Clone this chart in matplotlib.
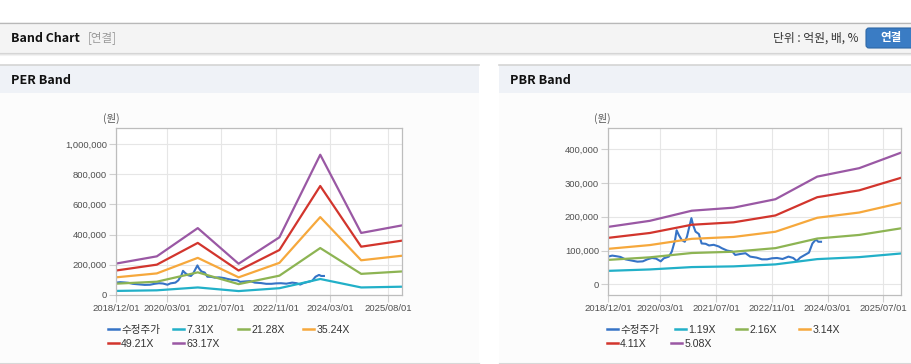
import matplotlib
matplotlib.use('Agg')
import matplotlib.pyplot as plt
from matplotlib.patches import Rectangle, FancyBboxPatch
from matplotlib.lines import Line2D
from matplotlib.ticker import FuncFormatter
import pandas as pd

plt.rcParams['font.family'] = ['Liberation Sans', 'Noto Sans CJK KR']

# yearly band points (December of each year)
band_dates = ['2018-12-01', '2019-12-01', '2020-12-01', '2021-12-01',
              '2022-12-01', '2023-12-01', '2024-12-01', '2025-12-01']

per_labels = ['7.31X', '21.28X', '35.24X', '49.21X', '63.17X']
per_731 = [27000, 31000, 50000, 26000, 45000, 106000, 50000, 55000]
per_2128 = [75000, 88000, 150000, 72000, 128000, 311000, 140000, 156000]
per_3524 = [117000, 143000, 246000, 117000, 213000, 516000, 230000, 260000]
per_4921 = [162000, 201000, 345000, 162000, 298000, 722000, 320000, 360000]
per_6317 = [208000, 256000, 443000, 207000, 382000, 929000, 411000, 461000]

pbr_labels = ['1.19X', '2.16X', '3.14X', '4.11X', '5.08X']
pbr_119 = [39800, 44000, 51000, 53100, 59000, 74600, 80500, 91300]
pbr_216 = [72300, 79900, 92700, 96500, 107100, 135600, 146200, 165800]
pbr_314 = [105000, 116200, 134700, 140300, 155700, 197100, 212600, 241000]
pbr_411 = [137500, 152000, 176400, 183600, 203900, 258000, 278300, 315500]
pbr_508 = [170000, 188000, 218000, 227000, 252000, 319000, 344000, 390000]

# adjusted share price (수정주가)
price_dates = ['2018-12-01', '2019-01-07', '2019-02-15', '2019-03-20', '2019-05-01',
               '2019-06-15', '2019-08-15', '2019-10-01', '2019-11-10', '2019-12-20',
               '2020-01-25', '2020-03-05', '2020-04-01', '2020-05-15', '2020-06-10',
               '2020-07-08', '2020-07-22', '2020-08-10', '2020-09-05', '2020-10-01',
               '2020-10-20', '2020-11-10', '2020-11-28', '2020-12-12', '2021-01-03',
               '2021-02-01', '2021-02-25', '2021-04-01', '2021-05-01', '2021-06-10',
               '2021-07-25', '2021-08-20', '2021-10-05', '2021-11-20', '2021-12-15',
               '2022-02-01', '2022-03-15', '2022-04-25', '2022-06-20', '2022-08-05',
               '2022-09-20', '2022-11-01', '2022-12-15', '2023-02-01', '2023-03-25',
               '2023-05-05', '2023-06-05', '2023-07-05', '2023-08-20', '2023-09-20',
               '2023-10-20', '2023-11-20', '2023-12-10', '2024-01-03']
price_vals = [82000, 85000, 83000, 81000, 74000, 71000, 67000, 68000, 74000, 78000,
              76000, 68000, 77000, 82000, 97000, 131000, 160000, 146000, 131000, 126000,
              141000, 171000, 196000, 176000, 156000, 149000, 121000, 120000, 115000, 117000,
              112000, 107000, 100000, 97000, 87000, 90000, 92000, 82000, 79000, 74000,
              74000, 77000, 78000, 75000, 82000, 78000, 69000, 79000, 88000, 94000,
              121000, 133000, 126000, 126000]

per_ticks = ['2018-12-01', '2020-03-01', '2021-07-01', '2022-11-01', '2024-03-01', '2025-08-01']
pbr_ticks = ['2018-12-01', '2020-03-01', '2021-07-01', '2022-11-01', '2024-03-01', '2025-07-01']

price_color = '#3673c6'
band_colors = ['#22b0c8', '#8db453', '#f6a83c', '#d2352d', '#9a58a4']

W, H = 912, 364
fig = plt.figure(figsize=(W / 100, H / 100), dpi=100)

# page decoration in pixel coordinates
bg = fig.add_axes([0, 0, 1, 1], zorder=-5)
bg.set_xlim(0, W)
bg.set_ylim(H, 0)
bg.axis('off')
bg.add_patch(Rectangle((0, 22), W, 31, fc='#f4f4f4', ec='none'))
bg.plot([0, W], [22.5, 22.5], color='#b8b8b8', lw=0.9)
for i, a in enumerate([0.4, 0.22, 0.1]):
    bg.plot([0, W], [53 + i, 53 + i], color='#999999', lw=0.8, alpha=a)
for x0, w in [(0, 479), (499, 413)]:
    bg.add_patch(Rectangle((x0, 65), w, 28, fc='#eff2f7', ec='none'))
    bg.plot([x0, x0 + w], [64.5, 64.5], color='#d4d4d4', lw=1.2)
    bg.add_patch(Rectangle((x0, 93), w, 269, fc='#fcfcfc', ec='none'))
    bg.plot([x0, x0 + w], [362.5, 362.5], color='#d8d8d8', lw=0.9)

bg.text(11, 38, 'Band Chart', fontsize=8.9, fontweight='bold', family='Noto Sans CJK KR',
        va='center', color='#111111')
bg.text(88, 38, '[연결]', fontsize=8.3, family='Noto Sans CJK KR', va='center', color='#9a9a9a')
bg.text(859, 38, '단위 : 억원, 배, %', fontsize=8.5, family='Noto Sans CJK KR',
        va='center', ha='right', color='#333333')
bg.add_patch(FancyBboxPatch((866, 28), 52, 20, boxstyle='round,pad=0,rounding_size=3',
                            fc='#3a7cc4', ec='#2f68a6', lw=0.8))
bg.text(891, 38, '연결', fontsize=8.3, fontweight='bold', family='Noto Sans CJK KR',
        va='center', ha='center', color='white')
bg.text(11, 80, 'PER Band', fontsize=9.1, fontweight='bold', family='Noto Sans CJK KR',
        va='center', color='#111111')
bg.text(510, 80, 'PBR Band', fontsize=9.1, fontweight='bold', family='Noto Sans CJK KR',
        va='center', color='#111111')
bg.text(111, 118, '(원)', fontsize=7.5, family='Noto Sans CJK KR', va='center', ha='center', color='#555555')
bg.text(602, 118, '(원)', fontsize=7.5, family='Noto Sans CJK KR', va='center', ha='center', color='#555555')


def make_axes(x0, x1, y0, y1):
    ax = fig.add_axes([x0 / W, 1 - y1 / H, (x1 - x0) / W, (y1 - y0) / H])
    ax.set_facecolor('white')
    ax.grid(True, color='#e6e6e6', lw=0.8)
    ax.set_axisbelow(True)
    for s in ax.spines.values():
        s.set_color('#bdbdbd')
        s.set_linewidth(0.9)
    ax.tick_params(axis='both', length=5, width=0.8, color='#cfcfcf', labelsize=6.8,
                   labelcolor='#505050', pad=1.5)
    ax.yaxis.set_major_formatter(FuncFormatter(lambda v, p: f'{int(v):,}'))
    return ax


def draw_chart(ax, bands, ticks):
    bd = pd.to_datetime(band_dates)
    ax.plot(pd.to_datetime(price_dates), price_vals, color=price_color, lw=1.5)
    for vals, c in zip(bands, band_colors):
        ax.plot(bd, vals, color=c, lw=1.6)
    tk = pd.to_datetime(ticks)
    ax.set_xticks(tk)
    ax.set_xticklabels([t.strftime('%Y/%m/%d') for t in tk])
    ax.set_xlim(pd.Timestamp('2018-12-01'), pd.Timestamp('2025-12-01'))


def legend_entry(x, y, color, label):
    h = Line2D([], [], color=color, lw=1.8)
    fig.legend(handles=[h], labels=[label], loc='center left',
               bbox_to_anchor=(x / W, 1 - y / H), bbox_transform=fig.transFigure,
               frameon=False, handlelength=1.0, handletextpad=0.25,
               borderpad=0, borderaxespad=0, fontsize=7.6, labelcolor='#333333')


ax1 = make_axes(116, 402, 128, 295)
draw_chart(ax1, [per_731, per_2128, per_3524, per_4921, per_6317], per_ticks)
ax1.set_ylim(0, 1106000)
ax1.set_yticks(range(0, 1000001, 200000))

ax2 = make_axes(608, 901, 128, 295)
draw_chart(ax2, [pbr_119, pbr_216, pbr_314, pbr_411, pbr_508], pbr_ticks)
ax2.set_ylim(-31700, 463000)
ax2.set_yticks(range(0, 400001, 100000))

names1 = ['수정주가'] + per_labels
names2 = ['수정주가'] + pbr_labels
cols = [price_color] + band_colors
pos1 = [(108, 330), (173, 330), (238, 330), (303, 330), (108, 344), (173, 344)]
pos2 = [(607, 330), (675, 330), (736, 330), (799, 330), (607, 344), (671, 344)]
for (x, y), c, n in zip(pos1, cols, names1):
    legend_entry(x, y, c, n)
for (x, y), c, n in zip(pos2, cols, names2):
    legend_entry(x, y, c, n)

fig.savefig('out.png', dpi=100)
